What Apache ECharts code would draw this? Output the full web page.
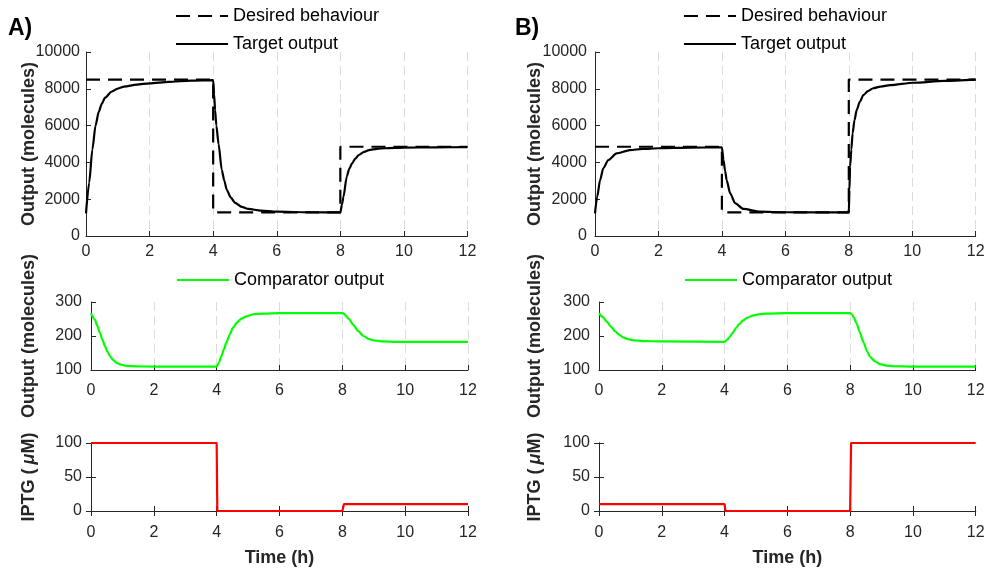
<!DOCTYPE html>
<html>
<head>
<meta charset="utf-8">
<script src="https://cdn.jsdelivr.net/npm/echarts@6/dist/echarts.min.js"></script>
<style>
  html, body { margin: 0; padding: 0; background: #fff; }
  #main { width: 988px; height: 572px; }
</style>
</head>
<body>
<div id="main"></div>
<script>
var chartDom = document.getElementById('main');
var myChart = echarts.init(chartDom, null, { renderer: 'canvas' });

const FONT = "'Liberation Sans', Arial, Helvetica, sans-serif";
const AXIS_COLOR = '#262626';

// x ticks
const timeTicks = { min: 0, max: 12, interval: 2 };

// desired behaviour (step reference)
const tDesired = [0, 4, 4, 8, 8, 12];
const desiredA = [8500, 8500, 1280, 1280, 4850, 4850];
const desiredB = [4850, 4850, 1280, 1280, 8500, 8500];

// target output, panel A
const tTargetA = [0, 0.1, 0.2, 0.3, 0.4, 0.5, 0.6, 0.8, 1.0, 1.2, 1.6, 2, 2.6, 3.3, 4,
  4.03, 4.06, 4.1, 4.17, 4.27, 4.35, 4.43, 4.55, 4.69, 4.9, 5.11, 5.5, 6, 7, 8,
  8.05, 8.1, 8.2, 8.28, 8.37, 8.47, 8.58, 8.75, 8.9, 9.15, 9.42, 10, 11, 12];
const targetA = [1230, 2900, 4700, 6000, 6750, 7200, 7520, 7840, 8010, 8120, 8230, 8300, 8380, 8440, 8470,
  7700, 6850, 6000, 5000, 3600, 3000, 2500, 2100, 1800, 1580, 1470, 1380, 1320, 1290, 1280,
  1700, 2140, 3220, 3650, 3950, 4200, 4400, 4570, 4670, 4740, 4770, 4800, 4820, 4830];

// target output, panel B
const tTargetB = [0, 0.07, 0.16, 0.26, 0.42, 0.68, 1.1, 1.5, 2, 3, 4,
  4.05, 4.1, 4.15, 4.26, 4.42, 4.68, 5.2, 6, 8,
  8.02, 8.04, 8.08, 8.12, 8.18, 8.25, 8.35, 8.46, 8.6, 8.77, 9.0, 9.3, 10.04, 11, 12];
const targetB = [1230, 2140, 3040, 3680, 4130, 4490, 4670, 4730, 4770, 4800, 4820,
  4130, 3550, 3040, 2320, 1780, 1470, 1320, 1290, 1280,
  2500, 3770, 4700, 5580, 6300, 6850, 7300, 7660, 7870, 8030, 8120, 8200, 8330, 8430, 8500];

// comparator output, panel A
const tCompA = [0, 0.12, 0.2, 0.28, 0.36, 0.44, 0.52, 0.6, 0.7, 0.81, 0.95, 1.13, 1.5, 2, 4,
  4.07, 4.15, 4.23, 4.31, 4.42, 4.52, 4.65, 4.79, 4.95, 5.16, 5.5, 6, 8,
  8.05, 8.12, 8.2, 8.35, 8.5, 8.67, 8.85, 9.0, 9.3, 9.7, 12];
const compA = [267, 249, 230, 210, 190, 171, 155, 141, 130, 121, 116, 112, 110.5, 110, 110,
  122, 141, 161, 181, 205, 225, 240, 251, 258, 264, 266, 267, 267,
  265, 259, 251, 233, 215, 200, 191, 187, 184, 183, 183];

// comparator output, panel B
const tCompB = [0, 0.12, 0.24, 0.38, 0.51, 0.64, 0.77, 0.92, 1.09, 1.4, 2, 4,
  4.08, 4.16, 4.26, 4.37, 4.47, 4.58, 4.73, 4.9, 5.1, 5.33, 6, 8,
  8.05, 8.12, 8.2, 8.3, 8.43, 8.54, 8.64, 8.8, 8.96, 9.15, 9.38, 10, 12];
const compB = [267, 256, 243, 228, 214, 204, 196, 191, 187.5, 185, 184, 183,
  189, 197, 210, 224, 235, 245, 254, 260, 264, 266, 267, 267,
  264, 254, 238, 213, 180, 155, 138, 125, 117, 113, 111, 110, 110];

// IPTG input
const tIptgA = [0, 4, 4.02, 8, 8.05, 12];
const iptgA = [100, 100, 0, 0, 10, 10];
const tIptgB = [0, 4, 4.03, 8, 8.03, 12];
const iptgB = [10, 10, 0, 0, 100, 100];

// y ranges
const outRange = { min: 0, max: 10000, interval: 2000 };
const compRange = { min: 100, max: 300, interval: 100 };
const iptgRange = { min: 0, max: 100, interval: 50 };

function pairs(ts, vs) {
    return ts.map((t, i) => [t, vs[i]]);
}

const grids = [
    { left: 86, top: 52, width: 381.5, height: 184 },
    { left: 91, top: 302, width: 377, height: 68 },
    { left: 91, top: 443, width: 377, height: 68 },
    { left: 595, top: 52, width: 380.7, height: 184 },
    { left: 599, top: 302, width: 376.7, height: 68 },
    { left: 599, top: 443, width: 376.7, height: 68 }
];

const labelStyle = { color: AXIS_COLOR, fontSize: 16, fontFamily: FONT, formatter: (v) => String(v) };
const nameStyle = { color: AXIS_COLOR, fontSize: 18, fontWeight: 'bold', fontFamily: FONT };
const lineAxis = { show: true, lineStyle: { color: AXIS_COLOR, width: 1 } };
const tickIn = { show: true, inside: true, length: 5, lineStyle: { color: AXIS_COLOR } };

const xAxes = [];
const yAxes = [];

function addX(g, kind, withName) {
    const idx = xAxes.length;
    xAxes.push({
        gridIndex: g, type: 'value', min: timeTicks.min, max: timeTicks.max, interval: timeTicks.interval,
        axisLine: lineAxis, axisTick: tickIn,
        axisLabel: Object.assign({ margin: kind === 'top' ? 8 : (kind === 'mid' ? 13 : 14) }, labelStyle),
        splitLine: kind === 'bot' ? { show: false } :
            { show: true, lineStyle: { color: '#dcdcdc', type: [9, 5], width: 1 } },
        name: withName ? 'Time (h)' : '', nameLocation: 'middle', nameGap: 38,
        nameMoveOverlap: false, nameTextStyle: nameStyle
    });
    if (kind === 'bot') {
        xAxes.push({
            gridIndex: g, type: 'value', position: 'top', min: timeTicks.min, max: timeTicks.max,
            interval: timeTicks.interval, axisLine: lineAxis, axisTick: tickIn,
            axisLabel: { show: false }, splitLine: { show: false }
        });
    }
    return idx;
}

function addY(g, range, name, gap, margin, box) {
    const idx = yAxes.length;
    yAxes.push({
        gridIndex: g, type: 'value', min: range.min, max: range.max, interval: range.interval,
        axisLine: lineAxis, axisTick: tickIn,
        axisLabel: Object.assign({ margin: margin }, labelStyle),
        splitLine: { show: false },
        name: name, nameLocation: 'middle', nameGap: gap, nameMoveOverlap: false,
        nameTextStyle: Object.assign({
            rich: { i: { fontStyle: 'italic', fontWeight: 'bold', fontSize: 18, fontFamily: FONT, color: AXIS_COLOR, padding: [0, 0, 0, 4] } }
        }, nameStyle)
    });
    if (box) {
        yAxes.push({
            gridIndex: g, type: 'value', position: 'right', min: range.min, max: range.max,
            interval: range.interval, axisLine: lineAxis, axisTick: tickIn,
            axisLabel: { show: false }, splitLine: { show: false }
        });
    }
    return idx;
}

const ax = {
    aTopX: addX(0, 'top'), aTopY: addY(0, outRange, 'Output (molecules)', 48, 6, false),
    aMidX: addX(1, 'mid'), aMidY: addY(1, compRange, 'Output (molecules)', 53, 9, false),
    aBotX: addX(2, 'bot', true), aBotY: addY(2, iptgRange, 'IPTG ({i|μ}M)', 53, 9, true),
    bTopX: addX(3, 'top'), bTopY: addY(3, outRange, 'Output (molecules)', 51, 8, false),
    bMidX: addX(4, 'mid'), bMidY: addY(4, compRange, 'Output (molecules)', 55, 9, false),
    bBotX: addX(5, 'bot', true), bBotY: addY(5, iptgRange, 'IPTG ({i|μ}M)', 55, 9, true)
};

const DASH = [14, 8];

function lineSeries(name, x, y, data, color, dashed, smooth) {
    return {
        name: name, type: 'line', xAxisIndex: x, yAxisIndex: y, data: data,
        showSymbol: false, symbol: 'none', smooth: smooth ? 0.25 : false,
        smoothMonotone: 'x', animation: false,
        lineStyle: { color: color, width: 2.2, type: dashed ? DASH : 'solid' },
        itemStyle: { color: color }
    };
}

const legendBase = {
    orient: 'vertical', itemWidth: 52, itemHeight: 14, itemGap: 8, selectedMode: false, padding: 0,
    itemStyle: { opacity: 0 },
    textStyle: { fontSize: 18, fontFamily: FONT, color: '#000', lineHeight: 20 }
};

var option = {
    backgroundColor: '#fff',
    animation: false,
    title: [
        { text: 'A)', left: 3, top: 12, textStyle: { fontSize: 23, fontWeight: 'bold', color: '#000', fontFamily: FONT } },
        { text: 'B)', left: 510, top: 12, textStyle: { fontSize: 23, fontWeight: 'bold', color: '#000', fontFamily: FONT } }
    ],
    legend: [
        Object.assign({ data: ['Desired behaviour', 'Target output'], left: 175, top: 6 }, legendBase),
        Object.assign({ data: ['Desired behaviour', 'Target output'], left: 683, top: 6 }, legendBase),
        Object.assign({ data: ['Comparator output'], left: 176, top: 270 }, legendBase),
        Object.assign({ data: ['Comparator output'], left: 684, top: 270 }, legendBase)
    ],
    grid: grids,
    xAxis: xAxes,
    yAxis: yAxes,
    series: [
        lineSeries('Desired behaviour', ax.aTopX, ax.aTopY, pairs(tDesired, desiredA), '#000', true, false),
        lineSeries('Target output', ax.aTopX, ax.aTopY, pairs(tTargetA, targetA), '#000', false, true),
        lineSeries('Comparator output', ax.aMidX, ax.aMidY, pairs(tCompA, compA), '#00ff00', false, true),
        lineSeries('IPTG A', ax.aBotX, ax.aBotY, pairs(tIptgA, iptgA), '#ff0000', false, false),
        lineSeries('Desired behaviour', ax.bTopX, ax.bTopY, pairs(tDesired, desiredB), '#000', true, false),
        lineSeries('Target output', ax.bTopX, ax.bTopY, pairs(tTargetB, targetB), '#000', false, true),
        lineSeries('Comparator output', ax.bMidX, ax.bMidY, pairs(tCompB, compB), '#00ff00', false, true),
        lineSeries('IPTG B', ax.bBotX, ax.bBotY, pairs(tIptgB, iptgB), '#ff0000', false, false)
    ]
};

option && myChart.setOption(option);
</script>
</body>
</html>
